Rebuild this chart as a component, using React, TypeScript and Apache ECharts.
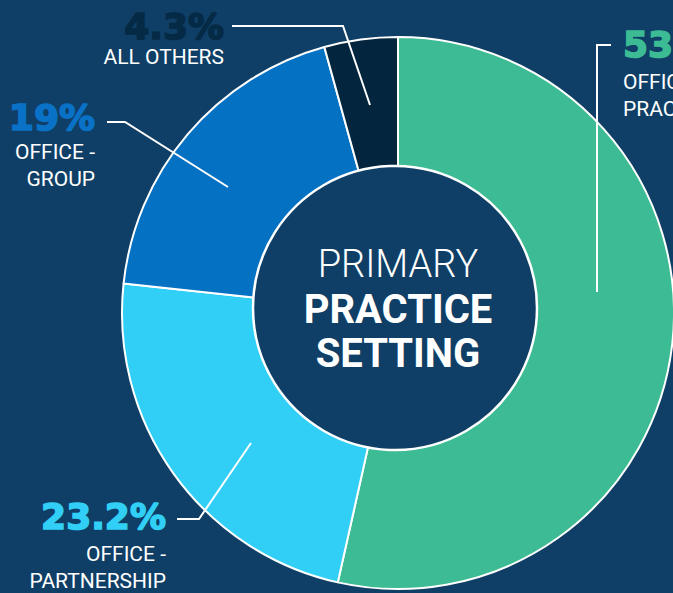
import React, { useEffect, useRef } from 'react';
import * as echarts from 'echarts';

const categories = ['OFFICE - PRIVATE PRACTICE', 'OFFICE - PARTNERSHIP', 'OFFICE - GROUP', 'ALL OTHERS'];
const values = [53.5, 23.2, 19, 4.3];
const nameLines = [['OFFICE - PRIVATE', 'PRACTICE'], ['OFFICE -', 'PARTNERSHIP'], ['OFFICE -', 'GROUP'], ['ALL OTHERS']];
const sliceColors = ['#3cbb94', '#31cff5', '#0571c3', '#03263e'];
const percentColors = ['#3cbb94', '#31cff5', '#0a72c6', '#052a45'];
const centerTitle = ['PRIMARY', 'PRACTICE', 'SETTING'];

const BG = '#0f3f66';

// annotation layout (positions of callouts)
const callouts = [
  { x: 623, align: 'left', pctY: 44, lineY0: 82, line: [[611, 45], [597, 45], [597, 292]] },
  { x: 166, align: 'right', pctY: 516, lineY0: 554, line: [[177, 519], [199, 519], [251, 443]] },
  { x: 95, align: 'right', pctY: 117, lineY0: 152, line: [[107, 122], [125, 122], [228, 187]] },
  { x: 224, align: 'right', pctY: 26, lineY0: 57, line: [[232, 26], [343, 26], [370, 105]] },
];

export default function App() {
  const ref = useRef<HTMLDivElement>(null);
  useEffect(() => {
    if (!ref.current) return;
    const chart = echarts.init(ref.current, undefined, { renderer: 'svg' });
    const graphics: any[] = [];
    graphics.push({
      type: 'circle',
      z: 100,
      shape: { cx: 395, cy: 308, r: 142 },
      style: { fill: BG, stroke: '#ffffff', lineWidth: 2.5 },
    });
    graphics.push({
      type: 'text', z: 101,
      style: { text: centerTitle[0], x: 398, y: 264, fill: '#ffffff', font: '300 38px Roboto', textAlign: 'center', textVerticalAlign: 'middle' },
    });
    graphics.push({
      type: 'text', z: 101,
      style: { text: centerTitle[1], x: 398, y: 309, fill: '#ffffff', font: 'bold 40px Roboto', textAlign: 'center', textVerticalAlign: 'middle' },
    });
    graphics.push({
      type: 'text', z: 101,
      style: { text: centerTitle[2], x: 398, y: 353, fill: '#ffffff', font: 'bold 40px Roboto', textAlign: 'center', textVerticalAlign: 'middle' },
    });
    values.forEach((v, i) => {
      const c = callouts[i];
      graphics.push({
        type: 'polyline', z: 102,
        shape: { points: c.line },
        style: { stroke: '#ffffff', lineWidth: 2, fill: null },
      });
      graphics.push({
        type: 'text', z: 103,
        style: {
          text: `${v}%`, x: c.x, y: c.pctY, fill: percentColors[i],
          stroke: percentColors[i], lineWidth: 1.6,
          font: 'bold 36px "DejaVu Sans"', textAlign: c.align, textVerticalAlign: 'middle',
        },
      });
      nameLines[i].forEach((t, j) => {
        graphics.push({
          type: 'text', z: 103,
          style: { text: t, x: c.x, y: c.lineY0 + j * 27, fill: '#ffffff', font: '21px Roboto', textAlign: c.align, textVerticalAlign: 'middle' },
        });
      });
    });

    chart.setOption({
      animation: false,
      backgroundColor: BG,
      series: [
        {
          type: 'pie',
          center: [398, 313],
          radius: [130, 276],
          startAngle: 90,
          clockwise: true,
          silent: true,
          label: { show: false },
          labelLine: { show: false },
          itemStyle: { borderColor: '#ffffff', borderWidth: 2 },
          data: values.map((v, i) => ({ value: v, name: categories[i], itemStyle: { color: sliceColors[i] } })),
        },
      ],
      graphic: graphics,
    });
    return () => chart.dispose();
  }, []);
  return <div ref={ref} style={{ position: 'fixed', left: 0, top: 0, width: 673, height: 593 }} />;
}
